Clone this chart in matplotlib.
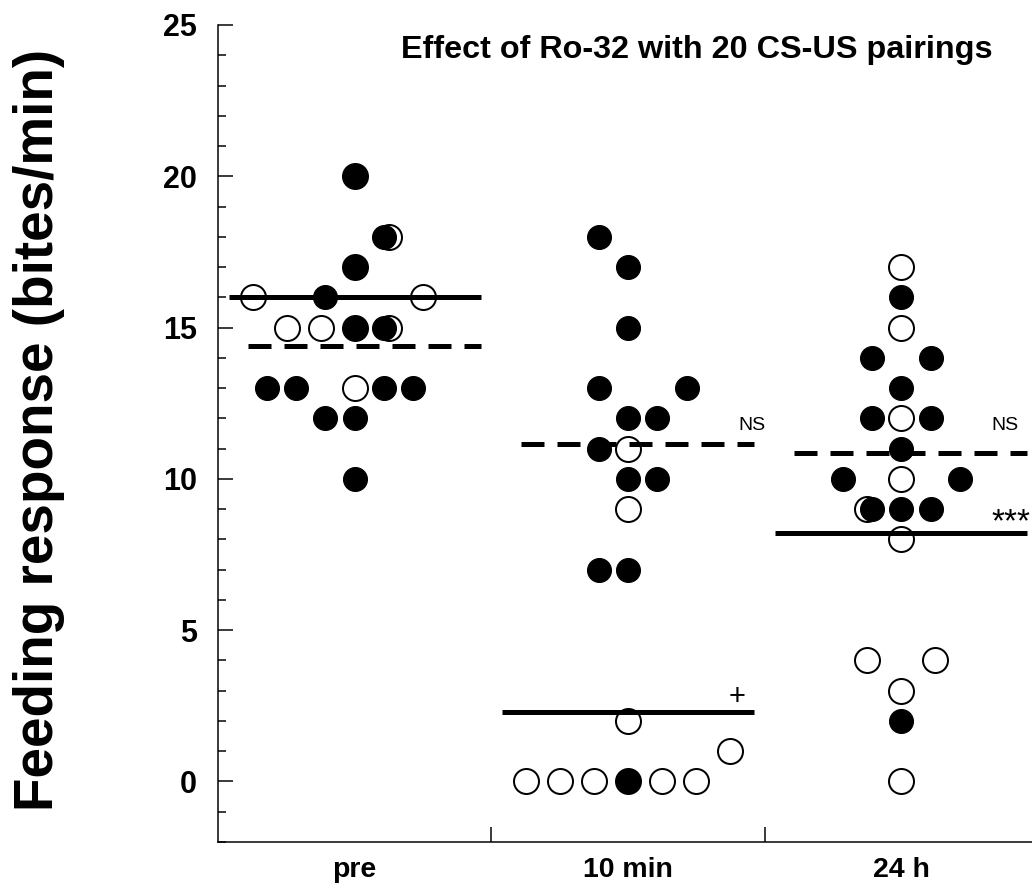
import numpy as np
import matplotlib
matplotlib.use("Agg")
import matplotlib.pyplot as plt
from matplotlib.ticker import MultipleLocator, FixedLocator, NullFormatter

plt.rcParams['font.family'] = ['Liberation Sans', 'DejaVu Sans']
plt.rcParams['lines.scale_dashes'] = False

# ---- data ----
categories = ["pre", "10 min", "24 h"]

# filled circles (values and horizontal jitter slot)
filled_pre = [20, 18, 17, 16, 15, 15, 13, 13, 13, 13, 12, 12, 10]
filled_pre_slot = [0, 1, 0, -1, 0, 1, -3, -2, 1, 2, -1, 0, 0]
filled_10 = [18, 17, 15, 13, 13, 12, 12, 11, 10, 10, 7, 7, 0]
filled_10_slot = [-1, 0, 0, -1, 2, 0, 1, -1, 0, 1, -1, 0, 0]
filled_24 = [16, 14, 14, 13, 12, 12, 11, 10, 10, 9, 9, 9, 2]
filled_24_slot = [0, -1, 1, 0, -1, 1, 0, -2, 2, -1, 0, 1, 0]

# open circles
open_pre = [20, 18, 17, 16, 16, 15, 15, 15, 15, 13]
open_pre_slot = [0, 1, 0, -3, 2, -2, -1, 0, 1, 0]
open_10 = [11, 9, 2, 1, 0, 0, 0, 0, 0, 0]
open_10_slot = [0, 0, 0, 3, -3, -2, -1, 0, 1, 2]
open_24 = [17, 15, 12, 10, 9, 8, 4, 4, 3, 0]
open_24_slot = [0, 0, 0, 0, -1, 0, -1, 1, 0, 0]

filled = [(filled_pre, filled_pre_slot), (filled_10, filled_10_slot), (filled_24, filled_24_slot)]
opened = [(open_pre, open_pre_slot), (open_10, open_10_slot), (open_24, open_24_slot)]

# ---- figure ----
W, H = 1032, 892
fig = plt.figure(figsize=(W / 100, H / 100), dpi=100)
ax_left, ax_right, ax_top, ax_bot = 218, 1038, 25, 842
ax = fig.add_axes([ax_left / W, 1 - ax_bot / H, (ax_right - ax_left) / W, (ax_bot - ax_top) / H])
ax.set_xlim(0, 3)
ax.set_ylim(-2, 25)

px = 0.72  # points per pixel
step_f = 29.3 / 273
step_o = 34.0 / 273
centers = np.arange(len(categories)) + 0.5

for i, (vals, slots) in enumerate(opened):
    x = centers[i] + np.array(slots) * step_o
    ax.scatter(x, vals, s=(25 * px) ** 2, facecolor='white', edgecolor='black',
               linewidths=2 * px, zorder=3, clip_on=False)
for i, (vals, slots) in enumerate(filled):
    x = centers[i] + np.array(slots) * step_f
    ax.scatter(x, vals, s=(24 * px) ** 2, facecolor='black', edgecolor='black',
               linewidths=1 * px, zorder=4, clip_on=False)

# mean lines: solid = open circles, dashed = filled circles
for i in range(3):
    mo = np.mean(opened[i][0])
    mf = np.mean(filled[i][0])
    ax.plot([centers[i] - 0.4615, centers[i] + 0.4615], [mo, mo], color='black',
            lw=5 * px, solid_capstyle='butt', zorder=5, clip_on=False)
    ax.plot([centers[i] - 0.392, centers[i] + 0.4615], [mf, mf], color='black',
            lw=5 * px, linestyle=(0, (23 * px, 13 * px)), dash_capstyle='butt',
            zorder=5, clip_on=False)

# annotations
ax.text(centers[1] + 0.455, 11.77, "NS", fontsize=14, ha='center', va='center')
ax.text(centers[2] + 0.38, 11.77, "NS", fontsize=14, ha='center', va='center')
ax.text(centers[1] + 0.40, np.mean(opened[1][0]) + 0.03, "+", fontsize=21,
        ha='center', va='bottom')
ax.text(centers[2] + 0.33, np.mean(opened[2][0]) - 0.15, "***", fontsize=24,
        ha='left', va='bottom')

# spines / ticks
for s in ['top', 'right']:
    ax.spines[s].set_visible(False)
for s in ['left', 'bottom']:
    ax.spines[s].set_linewidth(1.5 * px)

ax.yaxis.set_major_locator(MultipleLocator(5))
ax.yaxis.set_minor_locator(MultipleLocator(1))
ax.set_yticks([0, 5, 10, 15, 20, 25])
ax.tick_params(axis='y', which='major', direction='in', length=15 * px, width=1.5 * px,
               labelsize=22, pad=15)
ax.tick_params(axis='y', which='minor', direction='in', length=8 * px, width=1.5 * px)
for lab in ax.get_yticklabels():
    lab.set_fontweight('bold')

ax.xaxis.set_major_locator(FixedLocator([1, 2]))
ax.xaxis.set_major_formatter(NullFormatter())
ax.set_xticks(centers, labels=categories, minor=True)
ax.tick_params(axis='x', which='major', direction='in', length=15 * px, width=1.5 * px)
ax.tick_params(axis='x', which='minor', length=0, labelsize=20.5, pad=11)
for lab in ax.get_xticklabels(minor=True):
    lab.set_fontweight('bold')

fig.text(39 / W, 1 - 430 / H, "Feeding response (bites/min)", rotation=90,
         ha='center', va='center', fontsize=39.5, fontweight='bold')
fig.text(697 / W, 1 - 50 / H, "Effect of Ro-32 with 20 CS-US pairings",
         ha='center', va='center', fontsize=23.3, fontweight='bold')

fig.savefig("out.png", dpi=100)
